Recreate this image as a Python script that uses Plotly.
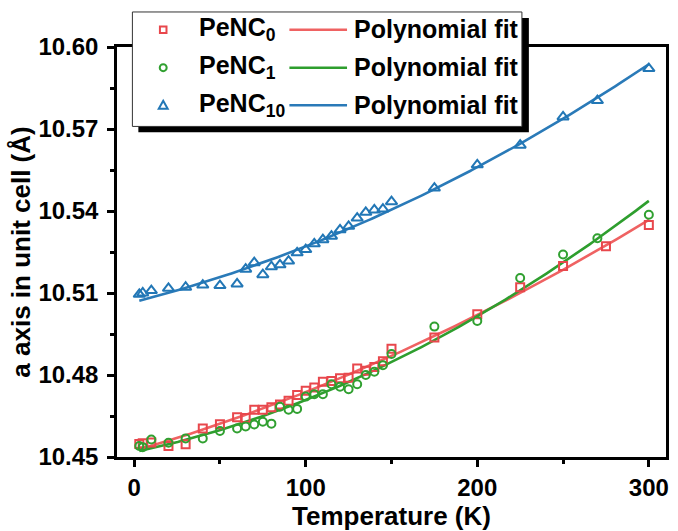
import numpy as np
import plotly.graph_objects as go

# ---------------- data ----------------
T0 = [3, 5, 10, 20, 30, 40, 50, 60, 65, 70, 75, 80, 85, 90, 95, 100, 105, 110,
      115, 120, 125, 130, 135, 140, 145, 150, 175, 200, 225, 250, 275, 300]
A0 = [10.4548, 10.4550, 10.4553, 10.4540, 10.4547, 10.4604, 10.4620, 10.4645,
      10.4643, 10.4673, 10.4673, 10.4682, 10.4692, 10.4706, 10.4727, 10.4742,
      10.4754, 10.4775, 10.4778, 10.4788, 10.4790, 10.4824, 10.4816, 10.4829,
      10.4850, 10.4896, 10.4937, 10.5022, 10.5121, 10.5199, 10.5271, 10.5349]

T1 = [3, 5, 10, 20, 30, 40, 50, 60, 65, 70, 75, 80, 85, 90, 95, 100, 105, 110,
      115, 120, 125, 130, 135, 140, 145, 150, 175, 200, 225, 250, 270, 300]
A1 = [10.4540, 10.4536, 10.4564, 10.4552, 10.4568, 10.4568, 10.4595, 10.4604,
      10.4612, 10.4619, 10.4629, 10.4622, 10.4684, 10.4673, 10.4676, 10.4721,
      10.4730, 10.4730, 10.4766, 10.4757, 10.4748, 10.4766, 10.4800, 10.4812,
      10.4836, 10.4877, 10.4977, 10.4998, 10.5155, 10.5241, 10.5300, 10.5386]

T10 = [3, 5, 10, 20, 30, 40, 50, 60, 65, 70, 75, 80, 85, 90, 95, 100, 105, 110,
       115, 120, 125, 130, 135, 140, 145, 150, 175, 200, 225, 250, 270, 300]
A10 = [10.5095, 10.5100, 10.5109, 10.5117, 10.5121, 10.5129, 10.5127, 10.5133,
       10.5187, 10.5211, 10.5167, 10.5196, 10.5203, 10.5217, 10.5247, 10.5259,
       10.5280, 10.5295, 10.5308, 10.5331, 10.5344, 10.5374, 10.5395, 10.5404,
       10.5407, 10.5434, 10.5484, 10.5569, 10.5641, 10.5744, 10.5804, 10.5921]

NAMES = ["PeNC<sub>0</sub>", "PeNC<sub>1</sub>", "PeNC<sub>10</sub>"]
FIT_LABEL = "Polynomial fit"
X_TICKS = [0, 100, 200, 300]
Y_TICKS = [10.45, 10.48, 10.51, 10.54, 10.57, 10.60]

RED_M, RED_L = "#E8474C", "#EF6262"
GRN_M, GRN_L = "#30A030", "#2E9E2E"
BLU_M, BLU_L = "#2277B6", "#2A7AB8"

FONT = "Arial, Liberation Sans, sans-serif"

fig = go.Figure()

series = [
    (T0, A0, RED_M, RED_L, "square-open"),
    (T1, A1, GRN_M, GRN_L, "circle-open"),
    (T10, A10, BLU_M, BLU_L, "triangle-up-open"),
]

for T, A, cm, cl, sym in series:
    coef = np.polyfit(T, A, 2)
    tf = np.linspace(min(T), max(T), 200)
    fig.add_trace(go.Scatter(x=tf, y=np.polyval(coef, tf), mode="lines",
                             line=dict(color=cl, width=2.6), showlegend=False,
                             hoverinfo="skip"))
for T, A, cm, cl, sym in series:
    size = 10 if sym.startswith("triangle") else 8
    fig.add_trace(go.Scatter(x=T, y=A, mode="markers", showlegend=False,
                             marker=dict(symbol=sym, size=size, color=cm,
                                         line=dict(width=2, color=cm))))

# ---------------- layout ----------------
W, H = 678, 531
L, R, TOP, B = 116.5, 9, 46.5, 69
PW, PH = W - L - R, H - TOP - B


def px(x):
    return (x - L) / PW


def py(y):
    return (H - B - y) / PH


shapes = []
# legend shadow + box
shapes.append(dict(type="rect", xref="paper", yref="paper",
                   x0=px(138), x1=px(531), y0=py(133), y1=py(17),
                   fillcolor="black", line=dict(width=0), layer="above"))
shapes.append(dict(type="rect", xref="paper", yref="paper",
                   x0=px(132), x1=px(524), y0=py(127), y1=py(11),
                   fillcolor="white", line=dict(width=1, color="#333333"),
                   layer="above"))

rows_y = [29, 67.5, 105.5]
mx = 163
# square
s = 3.3
shapes.append(dict(type="rect", xref="paper", yref="paper",
                   x0=px(mx - s), x1=px(mx + s), y0=py(rows_y[0] + s), y1=py(rows_y[0] - s),
                   line=dict(color=RED_M, width=2), fillcolor="rgba(0,0,0,0)", layer="above"))
# circle
c = 3.5
shapes.append(dict(type="circle", xref="paper", yref="paper",
                   x0=px(mx - c), x1=px(mx + c), y0=py(rows_y[1] + c), y1=py(rows_y[1] - c),
                   line=dict(color=GRN_M, width=2), fillcolor="rgba(0,0,0,0)", layer="above"))
# triangle
ty = rows_y[2]
tri = "M{:.5f},{:.5f} L{:.5f},{:.5f} L{:.5f},{:.5f} Z".format(
    px(mx - 4.5), py(ty + 3.5), px(mx + 4.5), py(ty + 3.5), px(mx), py(ty - 4.5))
shapes.append(dict(type="path", xref="paper", yref="paper", path=tri,
                   line=dict(color=BLU_M, width=2), fillcolor="rgba(0,0,0,0)", layer="above"))
# legend lines
for yy, col in zip(rows_y, [RED_L, GRN_L, BLU_L]):
    shapes.append(dict(type="line", xref="paper", yref="paper",
                       x0=px(290), x1=px(348), y0=py(yy), y1=py(yy),
                       line=dict(color=col, width=2.6), layer="above"))

annotations = []
for yy, name in zip(rows_y, NAMES):
    annotations.append(dict(xref="paper", yref="paper", x=px(197), y=py(yy - 0.5),
                            xanchor="left", yanchor="middle", showarrow=False,
                            text="<b>" + name + "</b>",
                            font=dict(family=FONT, size=25, color="black")))
    annotations.append(dict(xref="paper", yref="paper", x=px(353), y=py(yy - 0.5),
                            xanchor="left", yanchor="middle", showarrow=False,
                            text="<b>" + FIT_LABEL + "</b>",
                            font=dict(family=FONT, size=25, color="black")))

axis_common = dict(showline=True, linecolor="black", linewidth=2.5, mirror=True,
                   ticks="outside", tickwidth=2.5, ticklen=7, tickcolor="black",
                   showgrid=False, zeroline=False,
                   tickfont=dict(family=FONT, size=24, color="black", weight="bold"))

fig.update_layout(
    width=W, height=H,
    margin=dict(l=L, r=R, t=TOP, b=B, pad=0),
    paper_bgcolor="white", plot_bgcolor="white",
    shapes=shapes, annotations=annotations,
    xaxis=dict(range=[-10, 310], tickvals=X_TICKS, ticktext=[str(v) for v in X_TICKS],
               minor=dict(ticks="outside", dtick=50, tick0=0, ticklen=4, tickwidth=2.5,
                          tickcolor="black"),
               title=dict(text="<b>Temperature (K)</b>", standoff=3,
                          font=dict(family=FONT, size=26, color="black")),
               **axis_common),
    yaxis=dict(range=[10.45, 10.60], tickvals=Y_TICKS,
               ticktext=["{:.2f}".format(v) for v in Y_TICKS],
               minor=dict(ticks="outside", dtick=0.015, tick0=10.45, ticklen=4,
                          tickwidth=2.5, tickcolor="black"),
               ticklabelstandoff=4,
               title=dict(text="<b>a axis in unit cell (Å)</b>", standoff=1,
                          font=dict(family=FONT, size=26, color="black")),
               **axis_common),
)

fig.write_html("out.html")
